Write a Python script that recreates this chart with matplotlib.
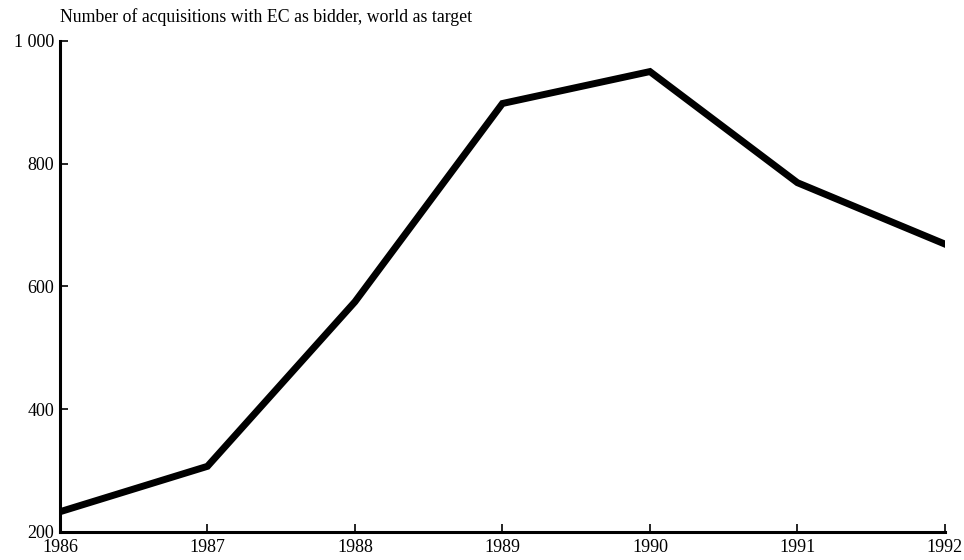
import matplotlib.pyplot as plt

# Data
years = [1986, 1987, 1988, 1989, 1990, 1991, 1992]
acquisitions = [233, 307, 575, 898, 950, 769, 669]

y_ticks = [200, 400, 600, 800, 1000]
y_labels = ['200', '400', '600', '800', '1 000']

plt.rcParams['font.family'] = ['Liberation Serif', 'DejaVu Serif']

fig = plt.figure(figsize=(9.64, 5.6), dpi=100)
ax = fig.add_axes([0.0622, 0.05, 0.918, 0.877])

ax.plot(years, acquisitions, color='black', linewidth=5, solid_joinstyle='miter')

ax.set_xlim(1986, 1992)
ax.set_ylim(200, 1000)
ax.set_xticks(years)
ax.set_yticks(y_ticks)
ax.set_yticklabels(y_labels)

for side in ['top', 'right']:
    ax.spines[side].set_visible(False)
for side in ['left', 'bottom']:
    ax.spines[side].set_linewidth(2.2)

ax.tick_params(direction='in', length=6, width=1.2, labelsize=13, pad=4)
ax.tick_params(axis='x', pad=5)

ax.text(0, 1.03, 'Number of acquisitions with EC as bidder, world as target',
        transform=ax.transAxes, fontsize=12.8, ha='left', va='bottom')

fig.savefig('out.png', dpi=100)
